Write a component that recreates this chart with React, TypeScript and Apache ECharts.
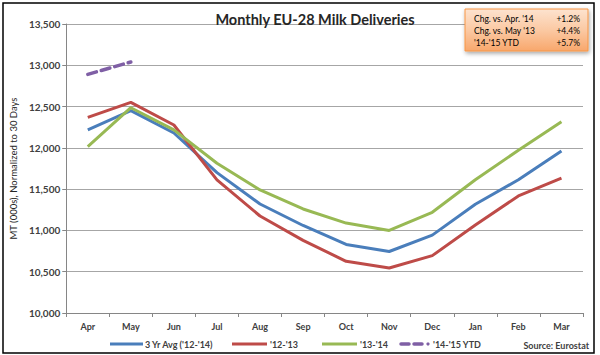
import React, { useEffect, useRef } from "react";
import * as echarts from "echarts";

const months = ["Apr", "May", "Jun", "Jul", "Aug", "Sep", "Oct", "Nov", "Dec", "Jan", "Feb", "Mar"];
const avg3yr = [12217, 12450, 12180, 11700, 11320, 11060, 10830, 10745, 10943, 11317, 11613, 11963];
const y1213 = [12370, 12550, 12277, 11612, 11175, 10880, 10626, 10545, 10695, 11065, 11418, 11634];
const y1314 = [12016, 12486, 12217, 11813, 11490, 11260, 11089, 11000, 11220, 11613, 11972, 12317];
const ytd1415 = [12890, 13040];
const boxLabels = ["Chg. vs. Apr. '14", "Chg. vs. May '13", "'14-'15 YTD"];
const boxValues = ["+1.2%", "+4.4%", "+5.7%"];
const seriesNames = ["3 Yr Avg ('12-'14)", "'12-'13", "'13-'14", "'14-'15 YTD"];

const FONT = "Lato";
const TXT = "#404040";

export default function App() {
  const ref = useRef<HTMLDivElement>(null);
  useEffect(() => {
    if (!ref.current) return;
    const chart = echarts.init(ref.current, undefined, { renderer: "svg" });
    const colors = ["#4A7EBB", "#BE4B48", "#98B954", "#7F5FA5"];

    const legendY = 344;
    const graphic: any[] = [
      {
        type: "rect",
        shape: { x: 3, y: 3, width: 591, height: 350 },
        style: { fill: "none", stroke: "#000", lineWidth: 1.5 },
        z: 0,
      },
      {
        type: "rect",
        shape: { x: 465, y: 9, width: 123, height: 42 },
        style: {
          fill: new echarts.graphic.LinearGradient(0, 0, 0, 1, [
            { offset: 0, color: "#FDE3CF" },
            { offset: 0.5, color: "#FBC9A3" },
            { offset: 1, color: "#F8A76C" },
          ]),
          stroke: "#F79646",
          lineWidth: 1,
          shadowBlur: 4,
          shadowColor: "rgba(0,0,0,0.35)",
          shadowOffsetX: 1,
          shadowOffsetY: 2,
        },
        z: 10,
      },
    ];
    boxLabels.forEach((t, i) => {
      graphic.push({
        type: "text",
        x: 474,
        y: 19 + i * 12,
        style: { text: t, fill: "#000", font: `8.5px ${FONT}`, textVerticalAlign: "middle", textAlign: "left" },
        z: 11,
      });
      graphic.push({
        type: "text",
        x: 580,
        y: 19 + i * 12,
        style: { text: boxValues[i], fill: "#000", font: `8.5px ${FONT}`, textVerticalAlign: "middle", textAlign: "right" },
        z: 11,
      });
    });

    const legendItems = [
      { x1: 110, x2: 143, tx: 145 },
      { x1: 232, x2: 267, tx: 270 },
      { x1: 322, x2: 357, tx: 360 },
    ];
    legendItems.forEach((it, i) => {
      graphic.push({
        type: "line",
        shape: { x1: it.x1, y1: legendY, x2: it.x2, y2: legendY },
        style: { stroke: colors[i], lineWidth: 3 },
      });
      graphic.push({
        type: "text",
        x: it.tx,
        y: legendY,
        style: { text: seriesNames[i], fill: TXT, font: `bold 9px ${FONT}`, textVerticalAlign: "middle" },
      });
    });
    graphic.push({
      type: "line",
      shape: { x1: 401, y1: legendY, x2: 409, y2: legendY },
      style: { stroke: colors[3], lineWidth: 3.5, lineCap: "round" },
    });
    graphic.push({
      type: "line",
      shape: { x1: 414, y1: legendY, x2: 422, y2: legendY },
      style: { stroke: colors[3], lineWidth: 3.5, lineCap: "round" },
    });
    graphic.push({
      type: "circle",
      shape: { cx: 428, cy: legendY, r: 1.6 },
      style: { fill: colors[3] },
    });
    graphic.push({
      type: "text",
      x: 433,
      y: legendY,
      style: { text: seriesNames[3], fill: TXT, font: `bold 9px ${FONT}`, textVerticalAlign: "middle" },
    });
    graphic.push({
      type: "text",
      x: 589,
      y: legendY + 1,
      style: { text: "Source: Eurostat", fill: TXT, font: `bold 9px ${FONT}`, textVerticalAlign: "middle", textAlign: "right" },
    });

    const mk = (i: number, data: number[], extra: any = {}) => ({
      name: seriesNames[i],
      type: "line",
      data,
      showSymbol: false,
      symbol: "none",
      lineStyle: { color: colors[i], width: 3, ...extra },
      itemStyle: { color: colors[i] },
      z: 3 + (i === 3 ? 1 : 0),
    });

    chart.setOption({
      animation: false,
      textStyle: { fontFamily: FONT },
      title: {
        text: "Monthly EU-28 Milk Deliveries",
        left: 310,
        top: 7,
        textAlign: "center",
        textStyle: { fontFamily: FONT, fontSize: 14.5, fontWeight: "bold", color: "#262626" },
      },
      grid: { left: 55, right: 17, top: 24, bottom: 42, containLabel: false },
      xAxis: {
        type: "category",
        data: months,
        boundaryGap: true,
        axisLine: { lineStyle: { color: "#868686", width: 1 } },
        axisTick: { show: true, length: 4, interval: 0, lineStyle: { color: "#868686" } },
        axisLabel: { color: TXT, fontSize: 9, fontWeight: "bold", margin: 9, fontFamily: FONT, interval: 0 },
      },
      yAxis: {
        type: "value",
        min: 10000,
        max: 13500,
        interval: 500,
        name: "MT (000s), Normalized to 30 Days",
        nameLocation: "middle",
        nameGap: 44,
        nameTextStyle: { color: "#262626", fontSize: 9.5, fontFamily: FONT },
        axisLine: { show: true, lineStyle: { color: "#868686", width: 1 } },
        axisTick: { show: true, length: 4, lineStyle: { color: "#868686" } },
        axisLabel: {
          color: TXT,
          fontSize: 10,
          fontWeight: "bold",
          margin: 6,
          fontFamily: FONT,
          formatter: (v: number) => v.toLocaleString("en-US"),
        },
        splitLine: { show: true, lineStyle: { color: "#A6A6A6", width: 1 } },
      },
      series: [
        mk(0, avg3yr),
        mk(1, y1213),
        mk(2, y1314),
        mk(3, ytd1415, { width: 3.5, type: [9, 5], cap: "round" }),
      ],
      graphic,
    });
    return () => chart.dispose();
  }, []);
  return (
    <div
      ref={ref}
      style={{ position: "fixed", left: 0, top: 0, width: 600, height: 355, background: "#fff" }}
    />
  );
}
